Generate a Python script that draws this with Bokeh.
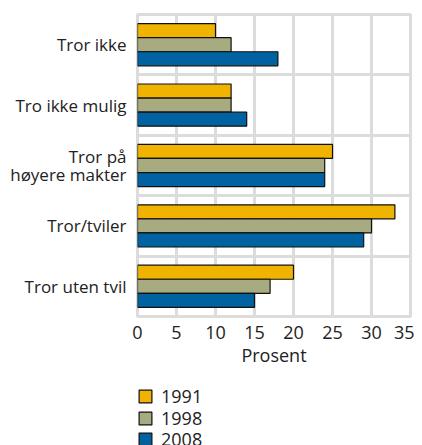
from bokeh.plotting import figure
from bokeh.layouts import column
from bokeh.models import ColumnDataSource, FixedTicker, Legend, LegendItem, Range1d
from bokeh.embed import file_html
from bokeh.resources import INLINE

categories = ["Tror ikke", "Tro ikke mulig", "Tror på\nhøyere makter", "Tror/tviler", "Tror uten tvil"]
years = ["1991", "1998", "2008"]
v1991 = [10, 12, 25, 33, 20]
v1998 = [12, 12, 24, 30, 17]
v2008 = [18, 14, 24, 29, 15]
colors = ["#f0b400", "#a8ab7f", "#0062a0"]
x_ticks = [0, 5, 10, 15, 20, 25, 30, 35]

n = len(categories)
centers = [n - i - 0.5 for i in range(n)]
bar_h = 0.233
offsets = [bar_h, 0.0, -bar_h]
series = [v1991, v1998, v2008]

p = figure(frame_width=273, frame_height=302, output_backend="svg", toolbar_location=None,
           x_range=Range1d(0, 35), y_range=Range1d(0, n),
           min_border_left=137, min_border_right=4, min_border_top=14, min_border_bottom=62)

for vals, off, col in zip(series, offsets, colors):
    src = ColumnDataSource(dict(y=[c + off for c in centers], right=vals))
    p.hbar(y="y", left=0, right="right", height=bar_h, source=src,
           fill_color=col, line_color="#111111", line_width=1.2)

p.xaxis.ticker = FixedTicker(ticks=x_ticks)
p.yaxis.ticker = FixedTicker(ticks=centers)
p.yaxis.major_label_overrides = {c: lab for c, lab in zip(centers, categories)}
p.ygrid.ticker = FixedTicker(ticks=list(range(n + 1)))
p.xgrid.ticker = FixedTicker(ticks=x_ticks)

for g in (p.xgrid, p.ygrid):
    g.grid_line_color = "#dcdcdc"
    g.grid_line_width = 3

p.outline_line_color = "#dcdcdc"
p.outline_line_width = 3

for ax in (p.xaxis, p.yaxis):
    ax.axis_line_color = None
    ax.major_tick_line_color = None
    ax.minor_tick_line_color = None
    ax.major_label_text_font = "Open Sans"
    ax.major_label_text_color = "#222222"

p.yaxis.major_label_text_font_size = "17px"
p.xaxis.major_label_text_font_size = "18px"
p.yaxis.major_label_text_line_height = 0.8
p.yaxis.major_label_standoff = 5
p.xaxis.major_label_standoff = 3
p.xaxis.axis_label = "Prosent"
p.xaxis.axis_label_text_font = "Open Sans"
p.xaxis.axis_label_text_font_size = "18px"
p.xaxis.axis_label_text_font_style = "normal"
p.xaxis.axis_label_text_color = "#222222"
p.xaxis.axis_label_standoff = 1

p.background_fill_color = "white"
p.border_fill_color = "white"

# legend panel (its bars lie far outside its visible ranges; only the legend shows)
p2 = figure(width=414, height=67, output_backend="svg", toolbar_location=None,
            x_axis_location=None, y_axis_location=None,
            min_border_left=0, min_border_right=0, min_border_top=0, min_border_bottom=0,
            x_range=Range1d(1000, 1001), y_range=Range1d(1000, 1001))
p2.grid.visible = False
p2.outline_line_color = None
p2.background_fill_color = "white"
p2.border_fill_color = "white"

for i, (yr, vals, col) in enumerate(zip(years, series, colors)):
    r = p2.hbar(y=centers, left=0, right=vals, height=bar_h, fill_color=col,
                line_color="#111111", line_width=1.2)
    lg = Legend(items=[LegendItem(label=yr, renderers=[r])],
                location=(0, 37 - 21.5 * i), orientation="vertical",
                border_line_color=None, background_fill_color=None,
                label_text_font="Open Sans", label_text_font_size="18px",
                label_text_color="#222222", glyph_width=16, glyph_height=16,
                label_height=16, spacing=0, padding=0, margin=0,
                label_standoff=8)
    p2.add_layout(lg)

layout = column(p, p2, spacing=0)

open("out.html", "w").write(file_html(layout, INLINE))
